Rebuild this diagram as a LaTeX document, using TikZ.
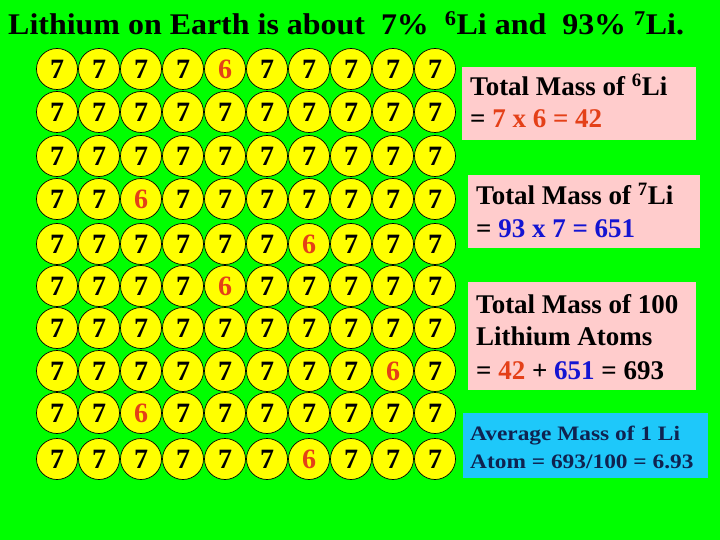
\documentclass[tikz,border=0pt]{standalone}
\usepackage{fontspec}
\setmainfont{Liberation Serif}
\definecolor{bggreen}{RGB}{0,255,0}
\definecolor{atomyellow}{RGB}{255,255,0}
\definecolor{sixred}{RGB}{228,64,24}
\definecolor{boxpink}{RGB}{255,204,204}
\definecolor{boxcyan}{RGB}{30,200,250}
\definecolor{navytext}{RGB}{15,35,80}
\definecolor{sumblue}{RGB}{20,20,210}
\begin{document}
\begin{tikzpicture}[x=1pt,y=-1pt,
  atom/.style={circle,draw=black,line width=0.7pt,fill=atomyellow,minimum size=41pt,inner sep=0pt,font=\fontsize{28}{28}\selectfont\bfseries},
  digit7/.style={text=black},
  digit6/.style={text=sixred},
  pinkbox/.style={fill=boxpink,draw=none},
  cyanbox/.style={fill=boxcyan,draw=none},
  boxtext/.style={anchor=base west,inner sep=0pt,font=\fontsize{27}{27}\selectfont\bfseries},
  smalltext/.style={anchor=base west,inner sep=0pt,text=navytext,font=\fontsize{20.5}{20.5}\selectfont\bfseries},
]
\fill[bggreen] (0,0) rectangle (720,540);
\useasboundingbox (0,0) rectangle (720,540);

\node[anchor=base west,inner sep=0pt,font=\fontsize{30}{30}\selectfont\bfseries] (title) at (8,35)
  {\scalebox{1.065}[1]{Lithium on Earth is about\hspace{0.5em}7\%\hspace{0.5em}\textsuperscript{6}Li and\hspace{0.5em}93\% \textsuperscript{7}Li.}};

\foreach \y/\digits [count=\r] in {
  69/{7,7,7,7,6,7,7,7,7,7},
  112/{7,7,7,7,7,7,7,7,7,7},
  156/{7,7,7,7,7,7,7,7,7,7},
  199/{7,7,6,7,7,7,7,7,7,7},
  244/{7,7,7,7,7,7,6,7,7,7},
  286/{7,7,7,7,6,7,7,7,7,7},
  328/{7,7,7,7,7,7,7,7,7,7},
  371/{7,7,7,7,7,7,7,7,6,7},
  413/{7,7,6,7,7,7,7,7,7,7},
  459/{7,7,7,7,7,7,6,7,7,7}} {
  \foreach \d [count=\c] in \digits {
    \node[atom,digit\d] (a-\r-\c) at ({57+42*(\c-1)},\y) {\d};
  }
}

\fill[pinkbox] (462,67) rectangle (696,140);
\node[boxtext] (b1l1) at (470,96) {Total Mass of \textsuperscript{6}Li};
\node[boxtext] (b1l2) at (470,128) {= \textcolor{sixred}{7 x 6 = 42}};

\fill[pinkbox] (468,175) rectangle (700,248);
\node[boxtext] (b2l1) at (476,205) {Total Mass of \textsuperscript{7}Li};
\node[boxtext] (b2l2) at (476,237) {= \textcolor{sumblue}{93 x 7 = 651}};

\fill[pinkbox] (468,282) rectangle (696,390);
\node[boxtext] (b3l1) at (476,313) {Total Mass of 100};
\node[boxtext] (b3l2) at (476,345) {Lithium Atoms};
\node[boxtext] (b3l3) at (476,379) {= \textcolor{sixred}{42} + \textcolor{sumblue}{651} = 693};

\fill[cyanbox] (463,413) rectangle (708,478);
\node[smalltext] (b4l1) at (470,440) {\scalebox{1.14}[1]{Average Mass of 1 Li}};
\node[smalltext] (b4l2) at (470,468) {\scalebox{1.14}[1]{Atom = 693/100 = 6.93}};
\end{tikzpicture}
\end{document}
